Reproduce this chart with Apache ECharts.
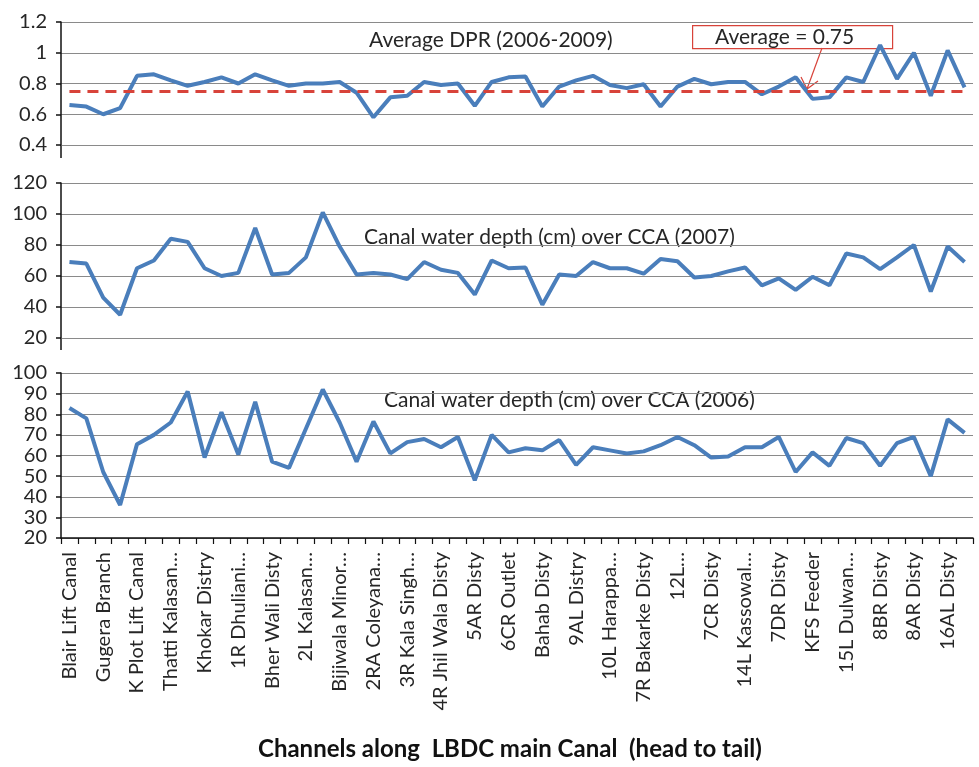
<!DOCTYPE html>
<html>
<head>
<meta charset="utf-8">
<style>
  html, body { margin: 0; padding: 0; background: #fff; }
  #chart { width: 979px; height: 767px; }
</style>
<script src="https://cdn.jsdelivr.net/npm/echarts@6/dist/echarts.min.js"></script>
</head>
<body>
<div id="chart"></div>
<script>
// Channels along the LBDC main canal, head to tail. Only every second channel is labelled.
const labelledChannels = [
  'Blair Lift Canal', 'Gugera Branch', 'K Plot Lift Canal', 'Thatti Kalasan…', 'Khokar Distry',
  '1R Dhuliani…', 'Bher Wali Disty', '2L Kalasan…', 'Bijiwala Minor…', '2RA Coleyana…',
  '3R Kala Singh…', '4R Jhil Wala Disty', '5AR Disty', '6CR Outlet', 'Bahab Disty',
  '9AL Distry', '10L Harappa…', '7R Bakarke Disty', '12L…', '7CR Disty',
  '14L Kassowal…', '7DR Disty', 'KFS Feeder', '15L Dulwan…', '8BR Disty',
  '8AR Disty', '16AL Disty'
];
const channelCount = 54;

// Average delivery performance ratio, 2006-2009
const dprAverage = [
  0.66, 0.65, 0.60, 0.64, 0.85, 0.86, 0.82, 0.785, 0.81, 0.84,
  0.80, 0.86, 0.82, 0.785, 0.80, 0.80, 0.81, 0.74, 0.58, 0.71,
  0.72, 0.81, 0.79, 0.80, 0.655, 0.81, 0.84, 0.845, 0.65, 0.78,
  0.82, 0.85, 0.79, 0.77, 0.795, 0.65, 0.78, 0.83, 0.795, 0.81,
  0.81, 0.73, 0.78, 0.84, 0.70, 0.71, 0.84, 0.81, 1.05, 0.83,
  1.00, 0.72, 1.015, 0.775
];
const dprOverall = 0.75;

// Canal water depth (cm) over CCA, 2007
const depth2007 = [
  69, 68, 46, 35, 65, 70, 84, 82, 65, 60,
  62, 91, 61, 62, 72, 101, 79, 61, 62, 61,
  58, 69, 64, 62, 48, 70, 65, 65.5, 41.5, 61,
  60, 69, 65, 65, 61.5, 71, 69.5, 59, 60, 63,
  65.5, 54, 58.5, 51, 59.5, 54, 74.5, 72, 64.5, 72,
  80, 50, 79, 69
];

// Canal water depth (cm) over CCA, 2006
const depth2006 = [
  83, 78, 52, 36, 65.5, 70, 76, 91, 59, 81,
  60.5, 86, 57, 54, 73, 92, 76, 57, 76.5, 61,
  66.5, 68, 64, 69, 48, 70, 61.5, 63.5, 62.5, 67.5,
  55.5, 64, 62.5, 61, 62, 65, 69, 65, 59, 59.5,
  64, 64, 69, 52, 61.5, 55, 68.5, 66, 55, 66,
  69, 50, 77.5, 71
];

const categories = [];
for (let i = 0; i < channelCount; i++) {
  categories.push(i % 2 === 0 ? labelledChannels[i / 2] : '');
}

const FONT = 'Lato';
const TEXT = '#262626';
const LINE = '#4a7ebb';
const GRID_LINE = '#8a8a8a';
const AXIS = '#111';

const grids = [
  { left: 61, right: 6, top: 22, height: 123 },
  { left: 61, right: 6, top: 183, height: 155 },
  { left: 61, right: 6, top: 373, height: 165 }
];

function yAxis(gridIndex, min, max, interval) {
  return {
    type: 'value', gridIndex, min, max, interval,
    axisLine: { show: true, lineStyle: { color: AXIS, width: 1.5 } },
    axisTick: { show: true, length: 5, lineStyle: { color: AXIS, width: 1.5 } },
    axisLabel: {
      color: TEXT, fontFamily: FONT, fontSize: 20, margin: 14,
      showMinLabel: true, showMaxLabel: true, hideOverlap: false
    },
    splitLine: { show: true, lineStyle: { color: GRID_LINE, width: 1.2 } }
  };
}

function xAxis(gridIndex, visible) {
  return {
    type: 'category', gridIndex, data: categories, boundaryGap: true,
    show: visible,
    axisLine: { show: visible, lineStyle: { color: AXIS, width: 1.5 } },
    axisTick: { show: visible, interval: 0, length: 6, lineStyle: { color: AXIS, width: 1.2 } },
    axisLabel: {
      show: visible, interval: 0, rotate: 90, color: TEXT,
      fontFamily: FONT, fontSize: 20, margin: 14, hideOverlap: false
    },
    splitLine: { show: false }
  };
}

function lineSeries(idx, data, extra) {
  return Object.assign({
    type: 'line', xAxisIndex: idx, yAxisIndex: idx, data,
    symbol: 'none', smooth: false,
    lineStyle: { color: LINE, width: 4 },
    z: 3
  }, extra || {});
}

const panelTitle = (text, left, top) => ({
  type: 'text', left, top,
  style: { text, fill: TEXT, font: `21px ${FONT}` }
});

// short downward stubs of the value axes under the two upper panels
const axisStub = (y1, y2) => ({
  type: 'line', shape: { x1: 61, y1, x2: 61, y2 },
  style: { stroke: AXIS, lineWidth: 1.5 }
});

const option = {
  animation: false,
  backgroundColor: '#fff',
  grid: grids,
  xAxis: [xAxis(0, false), xAxis(1, false), xAxis(2, true)],
  yAxis: [yAxis(0, 0.4, 1.2, 0.2), yAxis(1, 20, 120, 20), yAxis(2, 20, 100, 10)],
  series: [
    lineSeries(0, dprAverage, {
      markLine: {
        silent: true, symbol: 'none', label: { show: false },
        lineStyle: { color: '#d8433a', type: [11, 7], width: 3 },
        data: [[{ coord: [0, dprOverall] }, { coord: [channelCount - 1, dprOverall] }]]
      }
    }),
    lineSeries(1, depth2007),
    lineSeries(2, depth2006)
  ],
  graphic: [
    axisStub(145, 158),
    axisStub(338, 350),
    panelTitle('Average DPR (2006-2009)', 369, 30),
    panelTitle('Canal water depth (cm) over CCA (2007)', 364, 227),
    panelTitle('Canal water depth (cm) over CCA (2006)', 384, 390),
    {
      type: 'group', left: 692, top: 25,
      children: [
        { type: 'rect', shape: { x: 0, y: 0, width: 200, height: 23 },
          style: { fill: '#fff', stroke: '#d8433a', lineWidth: 1.2 } },
        { type: 'text', x: 92, y: 12,
          style: { text: 'Average = ' + dprOverall, fill: TEXT, font: `21px ${FONT}`,
                   align: 'center', verticalAlign: 'middle' } }
      ]
    },
    { type: 'line', shape: { x1: 822, y1: 48, x2: 807, y2: 89 },
      style: { stroke: '#d8433a', lineWidth: 1.2 } },
    { type: 'polyline', shape: { points: [[801, 77], [807, 89], [818, 81]] },
      style: { stroke: '#d8433a', lineWidth: 1.2, fill: null } },
    { type: 'text', left: 258, top: 737,
      style: { text: 'Channels along  LBDC main Canal  (head to tail)', fill: '#111',
               font: `bold 24px ${FONT}` } }
  ]
};

echarts.init(document.getElementById('chart'), null, { renderer: 'canvas' }).setOption(option);
</script>
</body>
</html>
